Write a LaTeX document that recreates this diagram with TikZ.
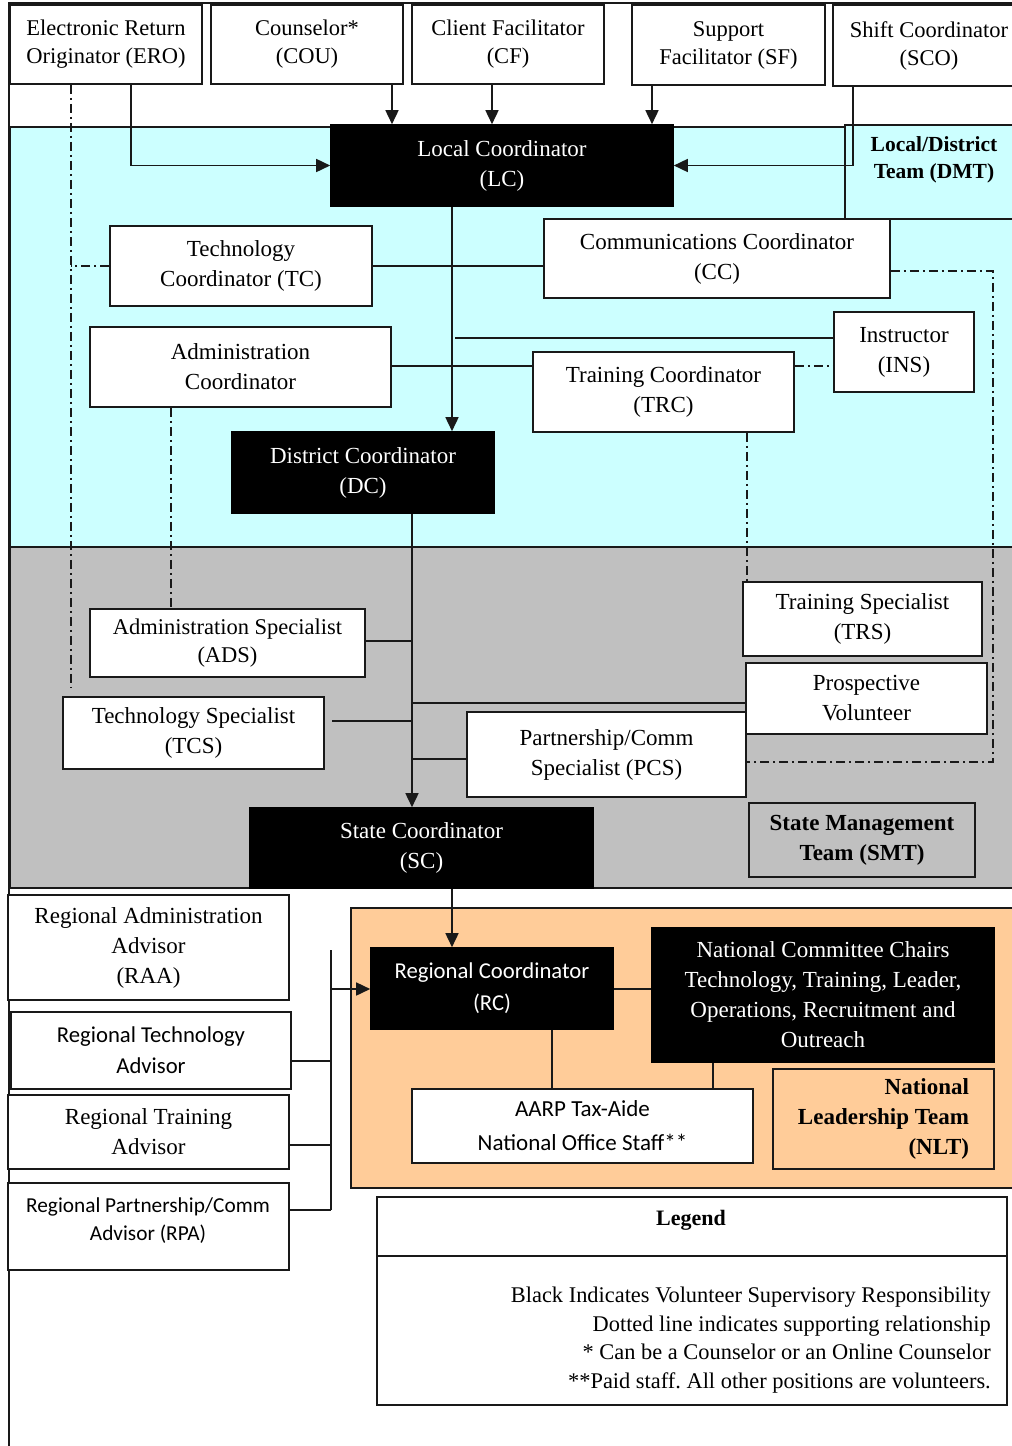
\documentclass[tikz,border=0pt]{standalone}
\usepackage{fontspec}
\setmainfont{Liberation Serif}
\newfontfamily\calfont{Carlito}
\usetikzlibrary{arrows.meta,calc}
\definecolor{cyanbg}{RGB}{204,255,255}
\definecolor{graybg}{RGB}{192,192,192}
\definecolor{peach}{RGB}{255,204,153}
\definecolor{edge}{RGB}{25,25,25}
\frenchspacing
\newcommand\rbox[7][]{%
  \pgfmathsetmacro\rbCX{(#3+#5)/2}%
  \pgfmathsetmacro\rbCY{(#4+#6)/2}%
  \pgfmathsetmacro\rbW{#5-#3}%
  \pgfmathsetmacro\rbH{#6-#4}%
  \node[#1, minimum width=\rbW pt, minimum height=\rbH pt] (#2) at (\rbCX,\rbCY) {#7};}
\begin{document}
\begin{tikzpicture}[x=1pt,y=-1pt,
  box/.style={draw=edge, line width=1.6pt, fill=white, align=center, inner sep=0pt,
    font=\fontsize{23}{30}\selectfont},
  topbox/.style={box, font=\fontsize{22.5}{28}\selectfont},
  blk/.style={box, fill=black, draw=black, text=white},
  sbox/.style={box, font=\calfont\fontsize{22.7}{31}\selectfont},
  blksans/.style={blk, font=\calfont\fontsize{22.7}{32}\selectfont},
  boldlbl/.style={align=center, inner sep=0pt, font=\bfseries\fontsize{21.5}{27}\selectfont},
  conn/.style={draw=edge, line width=1.6pt},
  arr/.style={conn, -{Triangle[length=14pt,width=13pt]}},
  dd/.style={draw=edge, line width=1.6pt, dash pattern=on 9pt off 4pt on 2pt off 4pt},
  region/.style={draw=edge, line width=1.6pt}]

\useasboundingbox (0,0) rectangle (1012,1446);
\clip (0,0) rectangle (1012,1446);
\fill[white] (0,0) rectangle (1012,1446);

% regions
\draw[region, fill=cyanbg] (10,127) rectangle (1030,547);
\draw[region, fill=graybg] (10,547) rectangle (1030,888);
\draw[region, fill=peach] (351,908) rectangle (1030,1188);
\draw[region] (9,1450) -- (9,3) -- (1030,3);

% DMT team box
\rbox[box, fill=cyanbg]{dmt}{845}{125}{1023}{219}{}
\node[boldlbl] (dmtT) at (934,160) {Local/District\\Team (DMT)};

% top row
\rbox[topbox]{ero}{10}{5}{202}{84}{Electronic Return\\Originator (ERO)}
\rbox[topbox]{cou}{211}{5}{403}{84}{Counselor*\\(COU)}
\rbox[topbox]{cf}{412}{5}{604}{84}{Client Facilitator\\(CF)}
\rbox[topbox]{sf}{632}{5}{825}{85}{Support\\Facilitator (SF)}
\rbox[topbox]{sco}{833}{5}{1025}{86}{Shift Coordinator\\(SCO)}

% local / district
\rbox[blk]{lc}{331}{125}{673}{206}{Local Coordinator\\(LC)}
\rbox[box]{tc}{110}{226}{372}{306}{Technology\\Coordinator (TC)}
\rbox[box]{cc}{544}{219}{890}{298}{Communications Coordinator\\(CC)}
\rbox[box]{adc}{90}{327}{391}{407}{Administration\\Coordinator}
\rbox[box]{ins}{834}{312}{974}{392}{Instructor\\(INS)}
\rbox[box]{trc}{533}{352}{794}{432}{Training Coordinator\\(TRC)}
\rbox[blk]{dc}{232}{432}{494}{513}{District Coordinator\\(DC)}

% state
\rbox[box, font=\fontsize{22.5}{28}\selectfont]{ads}{90}{609}{365}{677}{Administration Specialist\\(ADS)}
\rbox[box]{trs}{743}{582}{982}{656}{Training Specialist\\(TRS)}
\rbox[box]{pv}{746}{663}{987}{734}{Prospective\\Volunteer}
\rbox[box]{tcs}{63}{697}{324}{769}{Technology Specialist\\(TCS)}
\rbox[box]{pcs}{467}{712}{746}{797}{Partnership/Comm\\Specialist (PCS)}
\rbox[blk]{sc}{250}{808}{593}{888}{State Coordinator\\(SC)}
\rbox[box, fill=graybg, font=\bfseries\fontsize{23}{30}\selectfont]{smt}{749}{803}{975}{877}{State Management\\Team (SMT)}

% regional advisors
\rbox[box]{raa}{8}{895}{289}{1000}{Regional Administration\\Advisor\\(RAA)}
\rbox[sbox]{rta}{11}{1012}{291}{1089}{Regional Technology\\Advisor}
\rbox[box]{rtra}{8}{1095}{289}{1169}{Regional Training\\Advisor}
\rbox[sbox]{rpa}{8}{1183}{289}{1270}{}
\node[align=center, inner sep=0pt, font=\calfont\fontsize{21.3}{28}\selectfont] (rpaT) at (148,1221) {Regional Partnership/Comm\\Advisor (RPA)};

% national
\rbox[blksans]{rc}{371}{948}{613}{1029}{Regional Coordinator\\(RC)}
\rbox[blk]{ncc}{652}{928}{994}{1062}{National Committee Chairs\\Technology, Training, Leader,\\Operations, Recruitment and\\Outreach}
\rbox[sbox, font=\calfont\fontsize{23}{34}\selectfont]{aarp}{412}{1089}{753}{1163}{AARP Tax-Aide\\National Office Staff**}
\rbox[box, fill=peach, align=right, font=\bfseries\fontsize{23}{30}\selectfont]{nlt}{773}{1069}{994}{1169}{National\\Leadership Team\\(NLT)}

% legend
\rbox[box]{legend}{377}{1197}{1007}{1405}{}
\draw[conn] (legend.west |- 0,1256) -- (legend.east |- 0,1256);
\node[boldlbl, font=\bfseries\fontsize{22}{28}\selectfont] (legT) at (691,1220) {Legend};
\node[anchor=east, align=right, inner sep=0pt, font=\fontsize{22.4}{28.7}\selectfont] (legtxt) at (991,1340)
  {Black Indicates Volunteer Supervisory Responsibility\\
   Dotted line indicates supporting relationship\\
   * Can be a Counselor or an Online Counselor\\
   **Paid staff. All other positions are volunteers.};

% connectors: top row to LC
\draw[arr] (131,0 |- ero.south) |- (lc.west);
\draw[arr] (392,0 |- cou.south) -- (392,0 |- lc.north);
\draw[arr] (492,0 |- cf.south) -- (492,0 |- lc.north);
\draw[arr] (652,0 |- sf.south) -- (652,0 |- lc.north);
\draw[arr] (853,0 |- sco.south) |- (lc.east);

% LC to DC and branches
\draw[arr] (452,0 |- lc.south) -- (452,0 |- dc.north);
\draw[conn] (tc.east) -- (tc.east -| cc.west);
\draw[conn] (adc.east |- 0,366) -- (trc.west |- 0,366);
\draw[conn] (455,338) -- (ins.west |- 0,338);
\draw[dd] (trc.east |- 0,366) -- (ins.west |- 0,366);

% dash-dot supporting lines
\draw[dd] (cc.east |- 0,271) -| (993,762) -- (pcs.east |- 0,762);
\draw[dd] (71,0 |- ero.south) -- (71,687);
\draw[dd] (tc.west) -- (71,0 |- tc.west);
\draw[dd] (171,0 |- adc.south) -- (171,0 |- ads.north);
\draw[dd] (747,0 |- trc.south) -- (747,0 |- trs.north);

% DC to SC and branches
\draw[arr] (412,0 |- dc.south) -- (412,0 |- sc.north);
\draw[conn] (ads.east |- 0,641) -- (412,641);
\draw[conn] (332,721) -- (412,721);
\draw[conn] (412,703) -- (pv.west |- 0,703);
\draw[conn] (412,759) -- (pcs.west |- 0,759);

% SC to RC and national links
\draw[arr] (452,0 |- sc.south) -- (452,0 |- rc.north);
\draw[conn] (rc.east |- 0,989) -- (ncc.west |- 0,989);
\draw[conn] (552,0 |- rc.south) -- (552,0 |- aarp.north);
\draw[conn] (713,0 |- ncc.south) -- (713,0 |- aarp.north);

% regional advisors collector
\draw[conn] (331,950) -- (331,1210);
\draw[conn] (rta.east |- 0,1061) -- (331,1061);
\draw[conn] (rtra.east |- 0,1145) -- (331,1145);
\draw[conn] (rpa.east |- 0,1210) -- (331,1210);
\draw[arr] (331,989) -- (rc.west |- 0,989);
\end{tikzpicture}
\end{document}
